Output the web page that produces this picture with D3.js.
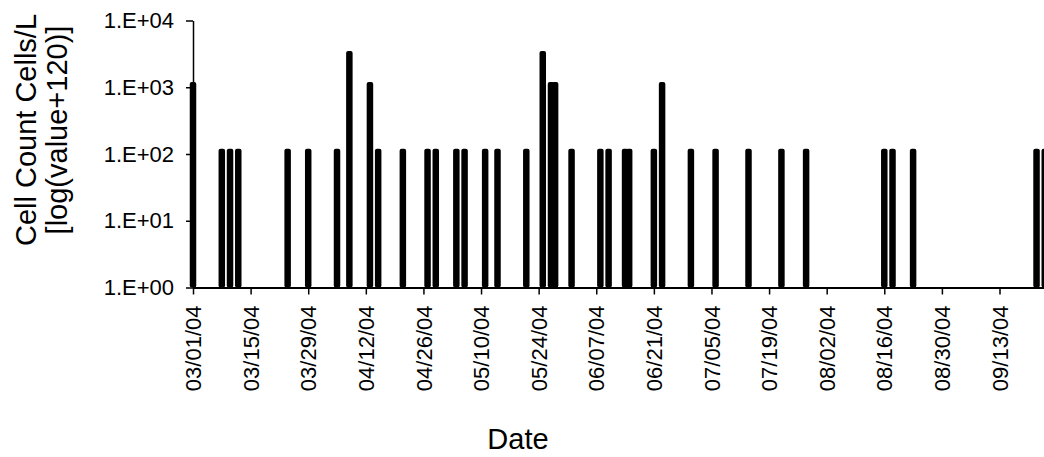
<!DOCTYPE html>
<html>
<head>
<meta charset="utf-8">
<script src="https://cdn.jsdelivr.net/npm/d3@7"></script>
<style>
  body { margin: 0; background: #fff; }
  text { font-family: "Liberation Sans", Arial, sans-serif; }
</style>
</head>
<body>
<div id="chart"></div>
<script>
// sample dates and cell counts (value + 120)
const dates = ["03/01/04","03/08/04","03/10/04","03/12/04","03/24/04","03/29/04","04/05/04","04/08/04",
  "04/13/04","04/15/04","04/21/04","04/27/04","04/29/04","05/04/04","05/06/04","05/11/04","05/14/04",
  "05/21/04","05/25/04","05/27/04","05/28/04","06/01/04","06/08/04","06/10/04","06/14/04","06/15/04",
  "06/21/04","06/23/04","06/30/04","07/06/04","07/14/04","07/22/04","07/28/04","08/16/04","08/18/04",
  "08/23/04","09/22/04","09/24/04"];
const counts = [1200,120,120,120,120,120,120,3500,
  1200,120,120,120,120,120,120,120,120,
  120,3500,1200,1200,120,120,120,120,120,
  120,1200,120,120,120,120,120,120,120,
  120,120,120];
const xTickLabels = ["03/01/04","03/15/04","03/29/04","04/12/04","04/26/04","05/10/04","05/24/04",
  "06/07/04","06/21/04","07/05/04","07/19/04","08/02/04","08/16/04","08/30/04","09/13/04"];
const yTicks = [1, 10, 100, 1000, 10000];
const xDomain = ["03/01/04", "09/26/04"];

const W = 1044, H = 457;
const parse = d3.utcParse("%m/%d/%y");
const data = dates.map((d, i) => ({date: parse(d), value: counts[i]}));

const svg = d3.select("#chart").append("svg")
    .attr("width", W)
    .attr("height", H);

const x = d3.scaleUtc()
    .domain(xDomain.map(parse))
    .range([193, 1053]);

const y = d3.scaleLog()
    .domain([1, 10000])
    .range([287.5, 20.5]);

const barW = 6.5;

svg.selectAll(".bar")
  .data(data)
  .enter().append("rect")
    .attr("class", "bar")
    .attr("x", d => x(d.date) - barW / 2)
    .attr("y", d => y(d.value))
    .attr("width", barW)
    .attr("height", d => y(1) - y(d.value))
    .attr("rx", 2)
    .attr("fill", "#000");

const xAxis = svg.append("g")
    .attr("transform", "translate(0," + y(1) + ")")
    .call(d3.axisBottom(x)
      .tickValues(xTickLabels.map(parse))
      .tickFormat(d3.utcFormat("%m/%d/%y"))
      .tickSizeInner(7).tickSizeOuter(0));
xAxis.select(".domain").attr("stroke-width", 2);
xAxis.selectAll(".tick line").attr("stroke-width", 1.5);
xAxis.selectAll("text")
    .attr("font-size", 22)
    .attr("transform", "rotate(-90)")
    .attr("text-anchor", "end")
    .attr("dy", "0.35em")
    .attr("x", -18)
    .attr("y", 0);

const yAxis = svg.append("g")
    .attr("transform", "translate(193,0)")
    .call(d3.axisLeft(y)
      .tickValues(yTicks)
      .tickFormat(d => "1.E+" + d3.format("02d")(Math.round(Math.log10(d))))
      .tickSizeInner(7).tickSizeOuter(0).tickPadding(12));
yAxis.select(".domain").attr("stroke-width", 1.5);
yAxis.selectAll(".tick line").attr("stroke-width", 1.5);
yAxis.selectAll("text").attr("font-size", 22);
svg.selectAll(".tick text").attr("fill", "#000").attr("font-family", "'Liberation Sans', Arial, sans-serif");

svg.append("text")
    .attr("transform", "translate(36,130) rotate(-90)")
    .attr("text-anchor", "middle")
    .attr("font-size", 29)
    .text("Cell Count Cells/L");
svg.append("text")
    .attr("transform", "translate(67,130) rotate(-90)")
    .attr("text-anchor", "middle")
    .attr("font-size", 29)
    .text("[log(value+120)]");

svg.append("text")
    .attr("x", 518)
    .attr("y", 449)
    .attr("text-anchor", "middle")
    .attr("font-size", 29)
    .text("Date");
</script>
</body>
</html>
